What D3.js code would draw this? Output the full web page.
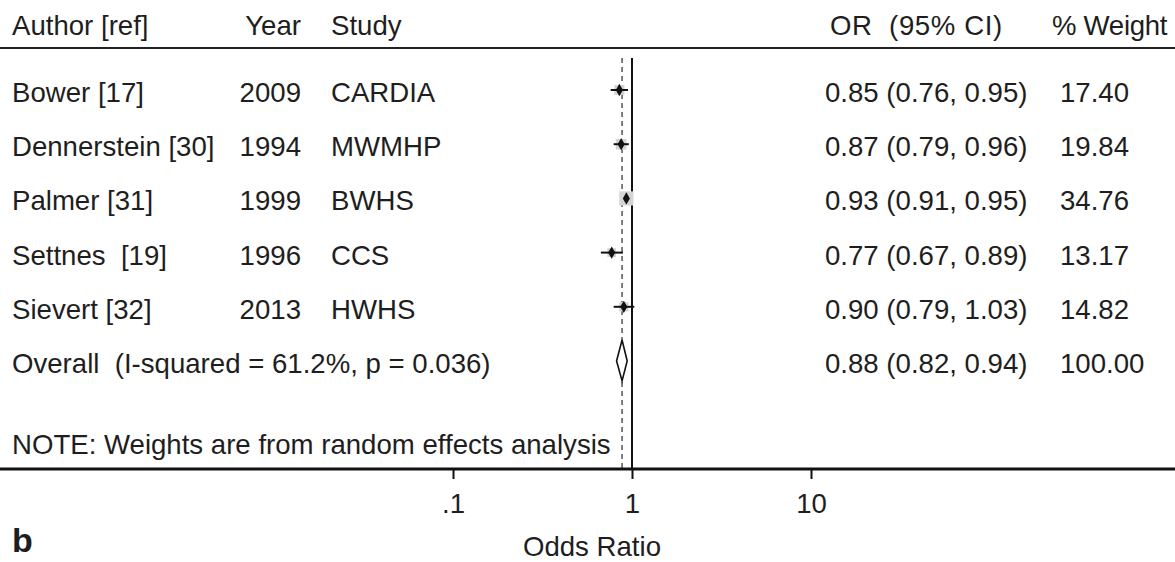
<!DOCTYPE html>
<html>
<head>
<meta charset="utf-8">
<script src="https://cdn.jsdelivr.net/npm/d3@7"></script>
<style>
  body { margin: 0; background: #fff; }
  svg text { font-family: "Liberation Sans", Arial, sans-serif; fill: #1e1e1e; white-space: pre; }
</style>
</head>
<body>
<svg id="chart" width="1175" height="562"></svg>
<script>
// study rows
const authors = ['Bower [17]', 'Dennerstein [30]', 'Palmer [31]', 'Settnes  [19]', 'Sievert [32]'];
const years = ['2009', '1994', '1999', '1996', '2013'];
const studies = ['CARDIA', 'MWMHP', 'BWHS', 'CCS', 'HWHS'];
const ors = [0.85, 0.87, 0.93, 0.77, 0.90];
const lower = [0.76, 0.79, 0.91, 0.67, 0.79];
const upper = [0.95, 0.96, 0.95, 0.89, 1.03];
const weights = [17.40, 19.84, 34.76, 13.17, 14.82];

// pooled estimate
const overallLabel = 'Overall  (I-squared = 61.2%, p = 0.036)';
const overallOR = 0.88, overallLo = 0.82, overallHi = 0.94, overallWeight = 100.00;

const tickValues = [0.1, 1, 10];
const tickLabels = ['.1', '1', '10'];

const svg = d3.select('#chart');
const W = 1175;
const fs = 27.6;

const x = d3.scaleLog().domain([0.1, 10]).range([453, 811]);
// text baselines by row index
const y = d3.scaleLinear().domain([0, 5]).range([102, 373]);
const markOff = -12;
const box = d3.scaleSqrt().domain([0, 100]).range([0, 24]);

const fmt = d3.format('.2f');
const orText = (o, l, h) => `${fmt(o)} (${fmt(l)}, ${fmt(h)})`;

// header
const header = svg.append('g').style('font-size', fs + 'px');
header.append('text').attr('x', 12).attr('y', 35).text('Author [ref]');
header.append('text').attr('x', 301).attr('y', 35).attr('text-anchor', 'end').text('Year');
header.append('text').attr('x', 331).attr('y', 35).text('Study');
header.append('text').attr('x', 830).attr('y', 35).style('letter-spacing', '0.6px').text('OR  (95% CI)');
header.append('text').attr('x', 1052).attr('y', 35).style('letter-spacing', '-0.3px').text('% Weight');

svg.append('line').attr('x1', 0).attr('x2', W).attr('y1', 48).attr('y2', 48)
  .attr('stroke', '#222').attr('stroke-width', 2);

// reference lines
svg.append('line').attr('x1', x(1)).attr('x2', x(1)).attr('y1', 58).attr('y2', 469)
  .attr('stroke', '#111').attr('stroke-width', 2);
svg.append('line').attr('x1', x(overallOR)).attr('x2', x(overallOR)).attr('y1', 58).attr('y2', 469)
  .attr('stroke', '#555').attr('stroke-width', 1.5).attr('stroke-dasharray', '5,4');

// study rows
const rows = authors.map((a, i) => ({
  author: a, year: years[i], study: studies[i],
  or: ors[i], lo: lower[i], hi: upper[i], w: weights[i], i: i
}));

const row = svg.selectAll('.row').data(rows).enter().append('g')
  .attr('class', 'row').style('font-size', fs + 'px');

row.append('text').attr('x', 12).attr('y', (d) => y(d.i)).text((d) => d.author);
row.append('text').attr('x', 301).attr('y', (d) => y(d.i)).attr('text-anchor', 'end').text((d) => d.year);
row.append('text').attr('x', 331).attr('y', (d) => y(d.i)).text((d) => d.study);
row.append('text').attr('x', 825).attr('y', (d) => y(d.i))
  .text((d) => orText(d.or, d.lo, d.hi));
row.append('text').attr('x', 1060).attr('y', (d) => y(d.i)).text((d) => fmt(d.w));

// weight boxes
row.append('rect')
  .attr('x', (d) => x(d.or) - box(d.w) / 2)
  .attr('y', (d) => y(d.i) + markOff - box(d.w) / 2)
  .attr('width', (d) => box(d.w))
  .attr('height', (d) => box(d.w))
  .attr('fill', '#d4d4d4');

// CIs
row.append('line')
  .attr('x1', (d) => x(d.lo)).attr('x2', (d) => x(d.hi))
  .attr('y1', (d) => y(d.i) + markOff).attr('y2', (d) => y(d.i) + markOff)
  .attr('stroke', '#111').attr('stroke-width', 2);

row.append('path')
  .attr('d', d3.symbol().type(d3.symbolDiamond).size(44))
  .attr('transform', (d) => `translate(${x(d.or)}, ${y(d.i) + markOff})`)
  .attr('fill', '#111');

// overall
const ov = svg.append('g').style('font-size', fs + 'px');
ov.append('text').attr('x', 12).attr('y', y(5)).text(overallLabel);
ov.append('text').attr('x', 825).attr('y', y(5))
  .text(orText(overallOR, overallLo, overallHi));
ov.append('text').attr('x', 1060).attr('y', y(5)).text(fmt(overallWeight));

const cy = y(5) + markOff;
ov.append('path')
  .attr('d', `M${x(overallLo)},${cy} L${x(overallOR)},${cy - 21} L${x(overallHi)},${cy} L${x(overallOR)},${cy + 20} Z`)
  .attr('fill', '#fff').attr('stroke', '#111').attr('stroke-width', 1.6);

// note
svg.append('text').attr('x', 12).attr('y', y(6.5)).style('font-size', fs + 'px')
  .text('NOTE: Weights are from random effects analysis');

// x axis
svg.append('line').attr('x1', 0).attr('x2', W).attr('y1', 469).attr('y2', 469)
  .attr('stroke', '#111').attr('stroke-width', 3);

const axis = d3.axisBottom(x).tickValues(tickValues)
  .tickFormat((d, i) => tickLabels[i]).tickSize(10).tickPadding(14);

const ag = svg.append('g').attr('transform', 'translate(0, 469)').call(axis);
ag.select('.domain').remove();
ag.selectAll('.tick line').attr('stroke', '#111').attr('stroke-width', 2);
ag.selectAll('.tick text').style('font-size', fs + 'px').attr('fill', '#1e1e1e')
  .attr('font-family', '"Liberation Sans", Arial, sans-serif');

svg.append('text').attr('x', 592).attr('y', 556).attr('text-anchor', 'middle')
  .style('font-size', fs + 'px').text('Odds Ratio');

svg.append('text').attr('x', 12).attr('y', 552)
  .style('font-size', '34px').style('font-weight', 'bold').text('b');
</script>
</body>
</html>
